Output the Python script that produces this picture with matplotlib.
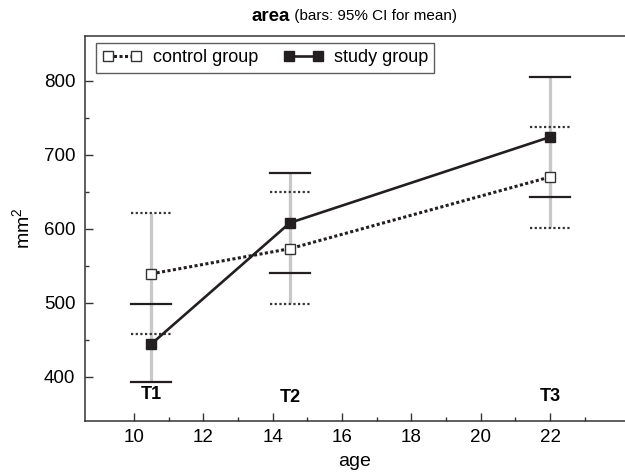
import matplotlib

matplotlib.use("Agg")
import matplotlib.pyplot as plt
from matplotlib.ticker import FixedLocator

plt.rcParams["font.family"] = ["Liberation Sans", "DejaVu Sans"]
plt.rcParams["mathtext.default"] = "regular"

# time points (age) and labels
ages = [10.5, 14.5, 22.0]
time_labels = ["T1", "T2", "T3"]
label_y = [376, 372, 373]

# control group: mean and 95% CI
control_mean = [539, 573, 670]
control_low = [458, 498, 601]
control_high = [621, 650, 738]

# study group: mean and 95% CI
study_mean = [444, 608, 724]
study_low = [393, 540, 643]
study_high = [498, 676, 805]

x_ticks = [10, 12, 14, 16, 18, 20, 22]
x_minor = [11, 13, 15, 17, 19, 21, 23]
y_ticks = [400, 500, 600, 700, 800]
y_minor = [450, 550, 650, 750]

DARK = "#231f20"
GRAY = "#c8c8c8"


def draw_group(ax, mean, low, high, dotted, label):
    cap = 0.58
    for x, lo, hi in zip(ages, low, high):
        ax.plot([x, x], [lo, hi], color=GRAY, lw=2.3, solid_capstyle="butt", zorder=1)
    for x, lo, hi in zip(ages, low, high):
        for y in (lo, hi):
            if dotted:
                ax.plot([x - cap, x + cap], [y, y], color="#333333", lw=1.6,
                        linestyle=(0, (1, 1.1)), zorder=2)
            else:
                ax.plot([x - cap, x + cap], [y, y], color=DARK, lw=1.6, zorder=2)

    if dotted:
        line, = ax.plot(ages, mean, color=DARK, lw=2.2, linestyle=(0, (1, 0.8)),
                        marker="s", markersize=7.5, markerfacecolor="white",
                        markeredgecolor="#333333", markeredgewidth=1.0,
                        label=label, zorder=4)
    else:
        line, = ax.plot(ages, mean, color=DARK, lw=1.9, marker="s",
                        markersize=7.5, markerfacecolor=DARK,
                        markeredgecolor=DARK, label=label, zorder=5)
    return line


def main():
    fig = plt.figure(figsize=(6.25, 4.73), dpi=100)
    ax = fig.add_axes([0.136, 0.110, 0.864, 0.8145])

    draw_group(ax, control_mean, control_low, control_high, True, "control group")
    draw_group(ax, study_mean, study_low, study_high, False, "study group")

    for x, y, t in zip(ages, label_y, time_labels):
        ax.text(x, y, t, ha="center", va="center", fontsize=13,
                fontweight="bold", color="black")

    ax.set_xlim(8.59, 24.16)
    ax.set_ylim(340, 861)
    ax.xaxis.set_major_locator(FixedLocator(x_ticks))
    ax.xaxis.set_minor_locator(FixedLocator(x_minor))
    ax.yaxis.set_major_locator(FixedLocator(y_ticks))
    ax.yaxis.set_minor_locator(FixedLocator(y_minor))
    ax.tick_params(which="both", direction="in", colors="#333333",
                   labelcolor="black", labelsize=13.5, width=1.0)
    ax.tick_params(which="major", length=6, pad=6)
    ax.tick_params(which="minor", length=3)
    ax.tick_params(axis="y", pad=7)

    for side in ("left", "bottom", "top"):
        ax.spines[side].set_color("#333333")
        ax.spines[side].set_linewidth(1.1)
    ax.spines["right"].set_visible(False)

    ax.set_xlabel("age", fontsize=14, labelpad=5)
    ax.set_ylabel("mm$^2$", fontsize=14, labelpad=8)

    leg = ax.legend(loc="upper left", bbox_to_anchor=(0.02, 0.981), ncol=2,
                    numpoints=2, fontsize=13, frameon=True, fancybox=False,
                    borderaxespad=0, handlelength=2.2, columnspacing=1.4,
                    handletextpad=0.6, borderpad=0.35)
    leg.get_frame().set_edgecolor("#333333")
    leg.get_frame().set_linewidth(1.0)

    title = fig.text(0.464, 0.966, "area", ha="right", va="center",
                     fontsize=13.5, fontweight="bold")
    ax.annotate(" (bars: 95% CI for mean)", xy=(1, 0.5), xycoords=title,
                ha="left", va="center", fontsize=11)

    fig.savefig("out.png", dpi=100)


if __name__ == "__main__":
    main()
